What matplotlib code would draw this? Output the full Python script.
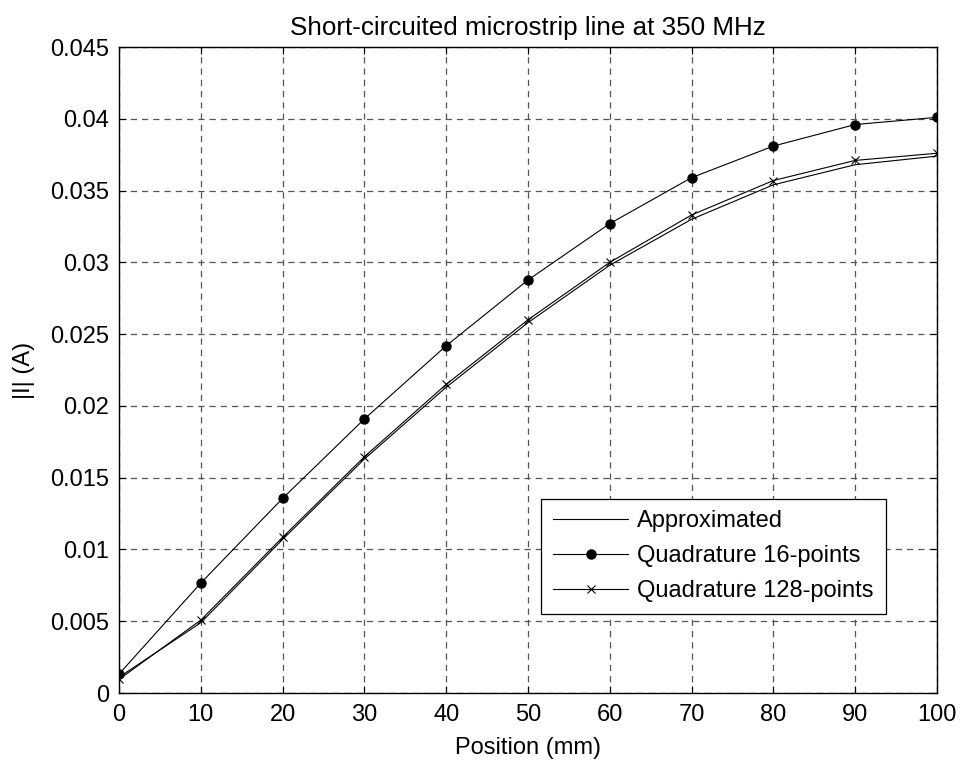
import numpy as np
import matplotlib
matplotlib.use("Agg")
import matplotlib.pyplot as plt

plt.rcParams['font.family'] = ['Liberation Sans', 'DejaVu Sans']

# posiciones (mm) y corriente |I| (A)
posicion = [0, 10, 20, 30, 40, 50, 60, 70, 80, 90, 100]
aproximado = [0.0011, 0.0049, 0.0107, 0.0163, 0.0213, 0.0258, 0.0298, 0.0330, 0.0354, 0.0368, 0.0374]
cuad16 = [0.00132, 0.00766, 0.01356, 0.01909, 0.02419, 0.02877, 0.0327, 0.0359, 0.0381, 0.0396, 0.0401]
cuad128 = [0.00095, 0.00508, 0.01085, 0.01646, 0.0215, 0.0260, 0.0300, 0.0333, 0.0357, 0.0371, 0.0376]

fs = 17

fig = plt.figure(figsize=(9.62, 7.63), dpi=100)
ax = fig.add_axes([0.1237, 0.0917, 0.8503, 0.8467])

ax.plot(posicion, aproximado, color='black', linewidth=0.8, label='Approximated')
ax.plot(posicion, cuad16, color='black', linewidth=0.8, marker='o', markersize=6.5,
        label='Quadrature 16-points')
ax.plot(posicion, cuad128, color='black', linewidth=0.8, marker='x', markersize=5.5,
        markeredgewidth=0.8, label='Quadrature 128-points')

ax.set_xlim(0, 100)
ax.set_ylim(0, 0.045)
ax.set_xticks(np.arange(0, 101, 10))
ax.set_yticks(np.arange(0, 0.0451, 0.005))
ax.set_yticklabels(['0', '0.005', '0.01', '0.015', '0.02', '0.025', '0.03', '0.035', '0.04', '0.045'])
ax.tick_params(direction='in', top=True, right=True, labelsize=fs, length=5, width=0.8)
ax.tick_params(axis='x', pad=8)
ax.tick_params(axis='y', pad=7)
ax.grid(True, linestyle=(0, (5, 4)), color='#555555', linewidth=0.9)
for s in ax.spines.values():
    s.set_linewidth(1.0)

ax.set_xlabel('Position (mm)', fontsize=fs, labelpad=8)
ax.set_ylabel('|I| (A)', fontsize=fs, labelpad=11)
ax.set_title('Short-circuited microstrip line at 350 MHz', fontsize=fs * 1.1, pad=9)

leg = ax.legend(loc='lower left', bbox_to_anchor=(0.516, 0.122), fontsize=fs,
                fancybox=False, edgecolor='black', framealpha=1, handlelength=3.2,
                handletextpad=0.38, borderpad=0.5, labelspacing=0.55, borderaxespad=0)
leg.get_frame().set_linewidth(0.9)

fig.savefig('out.png', dpi=100)
